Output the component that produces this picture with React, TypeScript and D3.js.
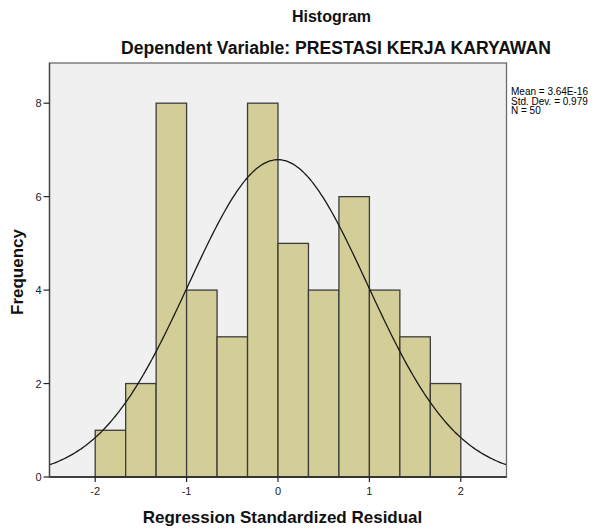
import React from "react";
import * as d3 from "d3";

const binStarts = [-2, -5 / 3, -4 / 3, -1, -2 / 3, -1 / 3, 0, 1 / 3, 2 / 3, 1, 4 / 3, 5 / 3];
const binWidth = 1 / 3;
const frequencies = [1, 2, 8, 4, 3, 8, 5, 4, 6, 4, 3, 2];
const xTicks = [-2, -1, 0, 1, 2];
const yTicks = [0, 2, 4, 6, 8];
const mean = 3.64e-16;
const sd = 0.979;
const n = 50;
const statsLines = ["Mean = 3.64E-16", "Std. Dev. = 0.979", "N = 50"];

const W = 609;
const H = 530;
const left = 49.5;
const right = 506.5;
const top = 63;
const bottom = 477;

export default function App() {
  const x = d3.scaleLinear().domain([-2.5, 2.5]).range([left, right]);
  const y = d3.scaleLinear().domain([0, 8.86]).range([bottom, top]);
  const curveXs = d3.range(-2.5, 2.5001, 0.02);
  const pdf = (v: number) =>
    (n * binWidth) / (sd * Math.sqrt(2 * Math.PI)) * Math.exp(-((v - mean) ** 2) / (2 * sd * sd));
  const line = d3
    .line<number>()
    .x((d) => x(d))
    .y((d) => y(pdf(d)))
    .curve(d3.curveBasis);
  const font = "'Liberation Sans', Arial, sans-serif";
  return (
    <svg
      width={W}
      height={H}
      style={{ position: "absolute", left: 0, top: 0, background: "#fff" }}
      fontFamily={font}
    >
      <text x={331.5} y={22} textAnchor="middle" fontSize={16} fontWeight="bold" fill="#111">
        Histogram
      </text>
      <text x={336} y={54} textAnchor="middle" fontSize={17.6} fontWeight="bold" fill="#111">
        Dependent Variable: PRESTASI KERJA KARYAWAN
      </text>
      <rect x={left} y={top} width={right - left} height={bottom - top} fill="#f0f0f0" />
      {frequencies.map((f, i) => (
        <rect
          key={i}
          x={x(binStarts[i])}
          y={y(f)}
          width={x(binStarts[i] + binWidth) - x(binStarts[i])}
          height={y(0) - y(f)}
          fill="#d3ce97"
          stroke="#3c3c3c"
          strokeWidth={1.3}
        />
      ))}
      <path d={line(curveXs) || ""} fill="none" stroke="#1a1a1a" strokeWidth={1.3} />
      <rect
        x={left}
        y={top}
        width={right - left}
        height={bottom - top}
        fill="none"
        stroke="#6a6a6a"
        strokeWidth={1.3}
      />
      <line x1={left} x2={right} y1={bottom} y2={bottom} stroke="#222" strokeWidth={1.5} />
      <line x1={left} x2={left} y1={top} y2={bottom} stroke="#444" strokeWidth={1.3} />
      {xTicks.map((t) => (
        <g key={t}>
          <line x1={x(t)} x2={x(t)} y1={bottom} y2={bottom + 5} stroke="#222" strokeWidth={1.2} />
          <text x={x(t)} y={bottom + 18} textAnchor="middle" fontSize={11} fill="#222">
            {t}
          </text>
        </g>
      ))}
      {yTicks.map((t) => (
        <g key={t}>
          <line x1={left - 6} x2={left} y1={y(t)} y2={y(t)} stroke="#222" strokeWidth={1.2} />
          <text x={left - 8} y={y(t) + 4} textAnchor="end" fontSize={11} fill="#222">
            {t}
          </text>
        </g>
      ))}
      <text x={282.5} y={523} textAnchor="middle" fontSize={17} fontWeight="bold" fill="#111">
        Regression Standardized Residual
      </text>
      <text
        transform={`translate(23, 272) rotate(-90)`}
        textAnchor="middle"
        fontSize={17}
        fontWeight="bold"
        fill="#111"
      >
        Frequency
      </text>
      {statsLines.map((s, i) => (
        <text key={i} x={511} y={95 + i * 9.5} fontSize={10} fill="#000">
          {s}
        </text>
      ))}
    </svg>
  );
}
